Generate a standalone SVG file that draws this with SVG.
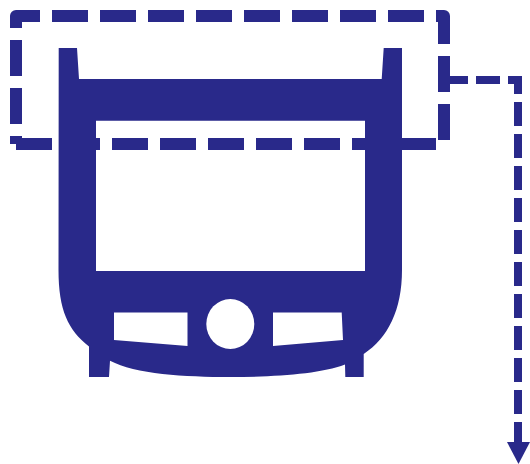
<svg xmlns="http://www.w3.org/2000/svg" width="530" height="464" viewBox="0 0 530 464">
  <style>
    .fill { fill: #29298A; }
    .link { fill: none; stroke: #29298A; }
    .outer { stroke-width: 12; stroke-dasharray: 36 12; stroke-linejoin: round; }
    .out { stroke-width: 8; stroke-dasharray: 24 8; }
  </style>
  <g id="device">
    <path class="fill" fill-rule="evenodd" d="M58.7 48H77L79 79H381.7L383.7 48H402V270C402 310 388 338 363.7 354V377H345.3L345 364.5C320 374 275 377 230 377C185 377 135 374 110 360.7L109 377H89V346.5C68 330 58.5 310 58.5 270ZM96 120.7V271H365V120.7ZM114 312.6V340L187.5 346V312.6ZM273 312.6V346L343 340L341.7 312.6Z"/>
    <ellipse cx="230.3" cy="324" rx="24" ry="25" fill="#FFFFFF"/>
  </g>
  <g id="connectors">
    <path class="link outer" d="M16 144H444V16H16V144"/>
    <path class="link out" d="M444 80H518V444"/>
    <polygon class="fill" points="507,442 530,442 518.5,464"/>
  </g>
</svg>
